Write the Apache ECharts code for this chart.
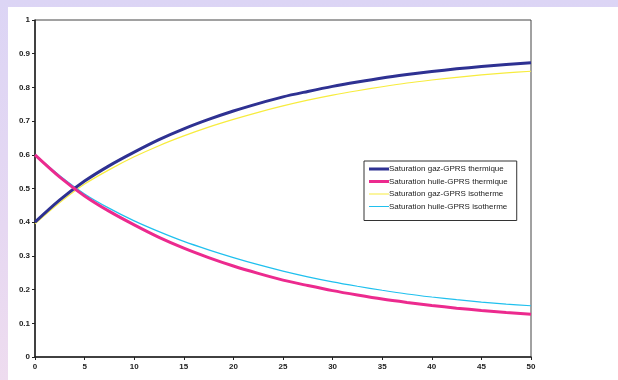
<!DOCTYPE html>
<html>
<head>
<meta charset="utf-8">
<script src="https://cdn.jsdelivr.net/npm/echarts@6/dist/echarts.min.js"></script>
<style>
html,body{margin:0;padding:0;width:618px;height:380px;overflow:hidden;}
body{background:linear-gradient(180deg,#dcd5f5 0%,#e6d8f2 60%,#eedcef 100%);position:relative;}
#paper{position:absolute;left:8px;top:7px;width:610px;height:373px;background:#fff;}
#chart{position:absolute;left:0;top:0;width:618px;height:380px;}
</style>
</head>
<body>
<div id="paper"></div>
<div id="chart"></div>
<script>
// x positions (time)
const xValues = [0,2.5,5,7.5,10,12.5,15,17.5,20,22.5,25,27.5,30,32.5,35,37.5,40,42.5,45,47.5,50];
const gasThermique = [0.400,0.466,0.522,0.568,0.608,0.645,0.677,0.705,0.730,0.752,0.772,0.788,0.803,0.816,0.828,0.838,0.847,0.855,0.862,0.868,0.873];
const huileThermique = [0.600,0.534,0.478,0.432,0.392,0.355,0.323,0.295,0.270,0.248,0.228,0.212,0.197,0.184,0.172,0.162,0.153,0.145,0.138,0.132,0.127];
const gasIsotherme = [0.395,0.458,0.513,0.556,0.594,0.627,0.656,0.682,0.705,0.726,0.745,0.762,0.777,0.790,0.802,0.813,0.822,0.830,0.837,0.843,0.848];
const huileIsotherme = [0.600,0.538,0.484,0.441,0.404,0.372,0.343,0.318,0.295,0.274,0.255,0.238,0.223,0.210,0.198,0.187,0.178,0.170,0.163,0.157,0.152];
const seriesNames = ['Saturation gaz-GPRS thermique','Saturation huile-GPRS thermique','Saturation gaz-GPRS isotherme','Saturation huile-GPRS isotherme'];
const xTicks = [0,5,10,15,20,25,30,35,40,45,50];
const yTicks = [0,0.1,0.2,0.3,0.4,0.5,0.6,0.7,0.8,0.9,1];

const colors = ['#2e3192','#ec2a8e','#f7ec3e','#20c0ee'];
const widths = [3,3,1.2,1.2];
const dataSets = [gasThermique,huileThermique,gasIsotherme,huileIsotherme];
const thickIcon = 'path://M0,0L0.001,0M0,2.5h20v3h-20zM0,8L0.001,8';
const thinIcon = 'path://M0,0L0.001,0M0,3.4h20v1.2h-20zM0,8L0.001,8';

const chart = echarts.init(document.getElementById('chart'), null, {renderer:'canvas'});
const font = 'Liberation Sans, Arial, sans-serif';
chart.setOption({
  backgroundColor:'transparent',
  animation:false,
  grid:{left:35,right:87,top:20,bottom:23,show:true,borderColor:'#444',borderWidth:1,backgroundColor:'transparent'},
  xAxis:{type:'value',min:0,max:50,interval:5,
    axisLine:{lineStyle:{color:'#222',width:1.5}},
    axisTick:{show:true,length:3,lineStyle:{color:'#222'}},
    axisLabel:{fontFamily:font,fontSize:8,fontWeight:'bold',color:'#222',margin:6},
    splitLine:{show:false}},
  yAxis:{type:'value',min:0,max:1,interval:0.1,
    axisLine:{show:true,lineStyle:{color:'#222',width:1.5}},
    axisTick:{show:true,length:3,lineStyle:{color:'#222'}},
    axisLabel:{fontFamily:font,fontSize:8,fontWeight:'bold',color:'#222',margin:5,
      formatter:function(v){return String(Math.round(v*10)/10);}},
    splitLine:{show:false}},
  legend:{orient:'vertical',left:364,top:161,
    padding:[4,9,10,5],itemGap:4.5,itemWidth:20,itemHeight:8,
    borderColor:'#333',borderWidth:1,backgroundColor:'#fff',
    itemStyle:{borderWidth:0},
    textStyle:{fontFamily:font,fontSize:8,color:'#222',padding:[0,0,0,-5]},
    data:seriesNames.map((n,i)=>({name:n,icon: widths[i]>2 ? thickIcon : thinIcon}))
  },
  series:dataSets.map((d,i)=>({
    name:seriesNames[i],type:'line',showSymbol:false,symbol:'none',smooth:0.3,
    color:colors[i],
    itemStyle:{color:colors[i]},
    lineStyle:{color:colors[i],width:widths[i]},
    data:xValues.map((x,j)=>[x,d[j]]),
    z: i<2 ? 3 : 2
  }))
});
</script>
</body>
</html>
